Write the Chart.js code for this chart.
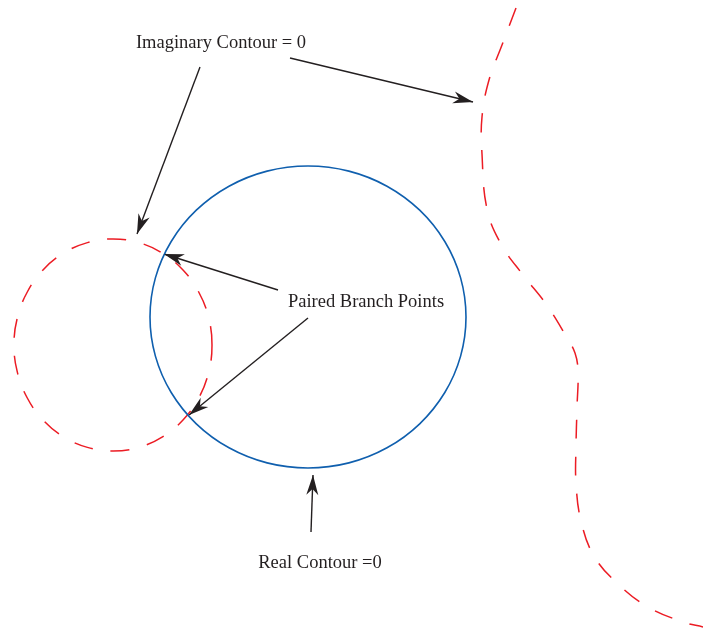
<!DOCTYPE html>
<html>
<head>
<meta charset="utf-8">
<script src="https://cdn.jsdelivr.net/npm/chart.js@4/dist/chart.umd.min.js"></script>
<style>
  html, body { margin: 0; padding: 0; background: #fff; }
  #wrap { width: 703px; height: 628px; }
</style>
</head>
<body>
<div id="wrap"><canvas id="diagram" width="703" height="628"></canvas></div>
<script>
// contour traces (x right, y down); circles are closed loops
const realContour = [
  [466,317],[460.6,277.9],[444.8,241.5],[419.7,210.2],[387,186.2],[348.9,171.1],
  [308,166],[267.1,171.1],[229,186.2],[196.3,210.2],[171.2,241.5],[155.4,277.9],
  [150,317],[155.4,356.1],[171.2,392.5],[196.3,423.8],[229,447.8],[267.1,462.9],
  [308,468],[348.9,462.9],[387,447.8],[419.7,423.8],[444.8,392.5],[460.6,356.1]
];
const imagCircle = [
  [212,345],[208.6,317.6],[198.7,292],[183,270],[162.5,253.2],[138.6,242.6],
  [113,239],[87.4,242.6],[63.5,253.2],[43,270],[27.3,292],[17.4,317.6],
  [14,345],[17.4,372.4],[27.3,398],[43,420],[63.5,436.8],[87.4,447.4],
  [113,451],[138.6,447.4],[162.5,436.8],[183,420],[198.7,398],[208.6,372.4]
];
const imagCurve = [
  [516,8],[502,45],[489,80],[482,117],[482,154],[487,209],[501,244],[523,275],
  [546,304],[566,336],[575,353],[578,371],[577,408],[576,446],[576,483],[581,521],
  [594,556],[618,584],[648,607],[683,622],[703,627]
];

// annotation arrows: [from, tip]
const arrows = [
  [[290,58],[473,102]],
  [[200,67],[137,234]],
  [[278,290],[164,254]],
  [[308,318],[189,415]],
  [[311,532],[313,475]]
];

const labels = ['Imaginary Contour = 0', 'Paired Branch Points', 'Real Contour =0'];
const labelAt = [[221,48],[366,307],[320,568]];

const toXY = a => a.map(([x, y]) => ({ x, y }));
const RED = '#ec1c24', BLUE = '#0f5fae', INK = '#231f20';

const datasets = [
  { data: toXY(realContour), borderColor: BLUE, borderWidth: 1.6, tension: 0.4, closed: true },
  { data: toXY(imagCircle), borderColor: RED, borderWidth: 1.5, borderDash: [19, 18], tension: 0.4, closed: true },
  { data: toXY(imagCurve), borderColor: RED, borderWidth: 1.5, borderDash: [19, 18], tension: 0.4 }
];
arrows.forEach(a => datasets.push({
  data: toXY(a), borderColor: INK, borderWidth: 1.4, tension: 0, arrow: true
}));

// close the circle traces so the spline has no seam
const closeLoops = {
  id: 'closeLoops',
  beforeDatasetsDraw(chart) {
    chart.data.datasets.forEach((ds, i) => {
      if (!ds.closed) return;
      const line = chart.getDatasetMeta(i).dataset;
      line._loop = true;
      line._fullLoop = true;
      line.points = line.points;
    });
  }
};

const annotate = {
  id: 'annotate',
  afterDatasetsDraw(chart) {
    const { ctx, scales: { x, y } } = chart;
    ctx.save();
    chart.data.datasets.forEach((ds, i) => {
      if (!ds.arrow) return;
      const pts = chart.getDatasetMeta(i).data;
      const a = pts[0], b = pts[pts.length - 1];
      const dx = b.x - a.x, dy = b.y - a.y, len = Math.hypot(dx, dy);
      const ux = dx / len, uy = dy / len, nx = -uy, ny = ux;
      const L = 20, W = 6, N = 14;
      ctx.fillStyle = INK;
      ctx.beginPath();
      ctx.moveTo(b.x, b.y);
      ctx.lineTo(b.x - L * ux + W * nx, b.y - L * uy + W * ny);
      ctx.lineTo(b.x - N * ux, b.y - N * uy);
      ctx.lineTo(b.x - L * ux - W * nx, b.y - L * uy - W * ny);
      ctx.closePath();
      ctx.fill();
    });
    ctx.fillStyle = INK;
    ctx.font = '18.5px "Liberation Serif", "Times New Roman", serif';
    ctx.textAlign = 'center';
    ctx.textBaseline = 'alphabetic';
    labels.forEach((t, i) => {
      ctx.fillText(t, x.getPixelForValue(labelAt[i][0]), y.getPixelForValue(labelAt[i][1]));
    });
    ctx.restore();
  }
};

new Chart(document.getElementById('diagram'), {
  type: 'line',
  data: { datasets },
  options: {
    responsive: false,
    animation: false,
    parsing: false,
    layout: { padding: 0 },
    elements: { point: { radius: 0, hoverRadius: 0 }, line: { borderCapStyle: 'butt', fill: false } },
    plugins: { legend: { display: false }, tooltip: { enabled: false } },
    events: [],
    scales: {
      x: { type: 'linear', min: 0, max: 703, display: false },
      y: { type: 'linear', min: 0, max: 628, reverse: true, display: false }
    }
  },
  plugins: [closeLoops, annotate]
});
</script>
</body>
</html>
